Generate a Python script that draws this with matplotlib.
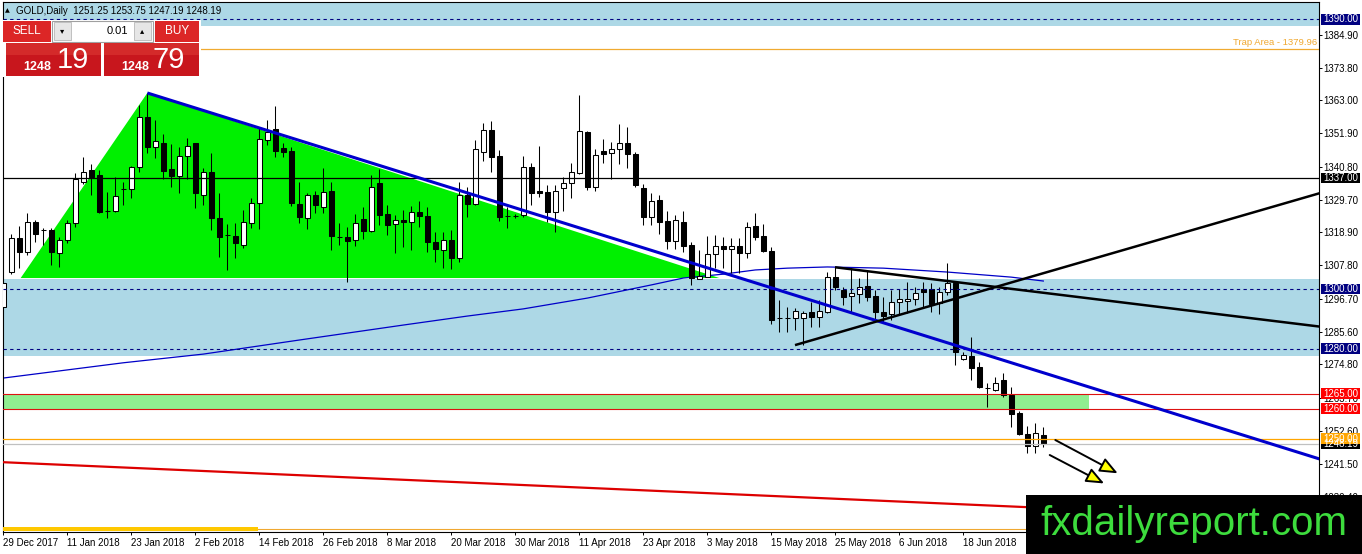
import numpy as np
import matplotlib

matplotlib.use("Agg")

import matplotlib.pyplot as plt
from matplotlib.patches import Rectangle, Polygon, FancyArrowPatch
from matplotlib.transforms import blended_transform_factory

plt.rcParams["font.family"] = ["Liberation Sans", "DejaVu Sans"]

# daily GOLD candles, 29 Dec 2017 .. 27 Jun 2018
opens = [
    1294.0, 1305.7, 1316.9, 1312.4, 1322.4, 1319.8, 1319.5, 1311.9, 1316.3, 1321.9,
    1335.6, 1339.6, 1338.0, 1326.0, 1326.0, 1333.3, 1333.2, 1340.6, 1357.5, 1347.3,
    1348.6, 1339.9, 1337.7, 1344.4, 1348.6, 1331.3, 1338.9, 1323.5, 1318.0, 1317.8,
    1314.6, 1321.9, 1328.6, 1349.7, 1353.4, 1346.9, 1346.0, 1328.3, 1323.5, 1331.3,
    1327.4, 1332.7, 1317.4, 1317.4, 1316.3, 1323.2, 1319.3, 1335.2, 1324.9, 1321.5,
    1323.1, 1322.4, 1325.6, 1324.3, 1315.7, 1313.0, 1316.3, 1310.2, 1331.3, 1328.2,
    1345.8, 1353.0, 1344.4, 1324.4, 1324.3, 1324.7, 1340.6, 1332.7, 1332.4, 1325.8,
    1333.6, 1335.5, 1338.6, 1352.5, 1334.1, 1346.0, 1345.5, 1346.6, 1348.6, 1344.9,
    1333.6, 1324.0, 1329.7, 1322.7, 1316.1, 1322.4, 1314.6, 1303.2, 1304.1, 1311.5,
    1314.3, 1313.2, 1314.3, 1311.9, 1321.0, 1317.6, 1312.6, 1290.2, 1290.1, 1290.1,
    1290.1, 1292.4, 1290.5, 1292.4, 1304.1, 1299.6, 1297.6, 1298.2, 1300.9, 1297.7,
    1292.2, 1291.5, 1295.7, 1295.8, 1296.5, 1299.8, 1299.8, 1295.2, 1299.1, 1301.8,
    1276.6, 1277.6, 1274.0, 1267.0, 1266.2, 1269.6, 1264.6, 1258.4, 1251.5, 1247.5,
    1251.25,
]
highs = [
    1303.5, 1318.2, 1320.9, 1325.3, 1323.0, 1320.2, 1320.2, 1317.4, 1323.0, 1338.6,
    1344.1, 1341.6, 1339.7, 1332.4, 1337.2, 1335.8, 1341.1, 1361.4, 1365.3, 1356.4,
    1351.6, 1348.2, 1347.5, 1350.5, 1348.6, 1340.2, 1345.2, 1331.9, 1321.6, 1321.9,
    1326.3, 1330.2, 1353.6, 1356.4, 1361.2, 1348.6, 1347.5, 1335.8, 1331.9, 1332.7,
    1340.2, 1335.8, 1321.9, 1320.8, 1324.9, 1327.3, 1338.0, 1340.0, 1328.0, 1324.7,
    1326.3, 1327.7, 1329.3, 1327.4, 1319.1, 1319.1, 1319.7, 1335.8, 1334.1, 1349.7,
    1355.3, 1356.0, 1346.4, 1327.4, 1325.0, 1344.4, 1341.9, 1347.7, 1334.7, 1334.7,
    1337.5, 1341.9, 1364.7, 1352.7, 1346.7, 1350.0, 1348.9, 1354.9, 1353.9, 1345.8,
    1334.9, 1331.9, 1331.3, 1326.0, 1324.7, 1326.0, 1315.7, 1313.0, 1317.6, 1318.0,
    1317.4, 1317.1, 1317.1, 1322.4, 1325.2, 1321.5, 1314.1, 1296.3, 1294.0, 1293.7,
    1292.6, 1295.7, 1296.3, 1305.7, 1307.2, 1300.7, 1306.8, 1303.5, 1306.3, 1299.6,
    1297.4, 1299.6, 1299.8, 1302.4, 1300.7, 1302.4, 1301.8, 1300.7, 1308.7, 1302.4,
    1279.0, 1283.8, 1275.7, 1268.5, 1270.5, 1271.8, 1267.1, 1259.3, 1254.2, 1255.1,
    1253.75,
]
lows = [
    1293.2, 1305.0, 1307.1, 1311.3, 1315.7, 1314.6, 1308.0, 1307.4, 1315.2, 1320.8,
    1335.1, 1331.3, 1325.2, 1323.5, 1325.5, 1328.0, 1330.2, 1339.1, 1345.2, 1343.8,
    1336.7, 1334.1, 1331.9, 1336.7, 1326.9, 1328.0, 1319.7, 1310.7, 1306.3, 1310.4,
    1313.5, 1320.2, 1320.0, 1348.0, 1344.1, 1344.1, 1327.8, 1321.9, 1320.0, 1325.2,
    1325.2, 1313.0, 1314.6, 1302.4, 1314.4, 1316.6, 1319.1, 1321.3, 1318.0, 1311.9,
    1314.1, 1313.0, 1320.8, 1312.4, 1308.9, 1307.1, 1306.5, 1309.1, 1324.0, 1328.0,
    1342.7, 1339.1, 1322.7, 1320.4, 1323.5, 1324.1, 1328.0, 1330.8, 1322.4, 1319.1,
    1326.0, 1330.4, 1338.2, 1333.0, 1332.7, 1341.9, 1336.7, 1341.6, 1340.2, 1334.1,
    1321.3, 1321.3, 1318.2, 1313.3, 1313.3, 1312.4, 1301.3, 1303.2, 1303.8, 1307.1,
    1306.9, 1305.2, 1305.2, 1310.2, 1316.3, 1312.4, 1288.2, 1285.7, 1285.7, 1286.2,
    1281.2, 1287.1, 1287.1, 1291.8, 1299.6, 1294.6, 1292.4, 1295.2, 1296.0, 1289.6,
    1289.0, 1289.6, 1291.3, 1291.8, 1294.6, 1293.5, 1292.4, 1291.6, 1297.9, 1274.6,
    1276.2, 1269.6, 1266.8, 1260.6, 1266.0, 1264.0, 1254.0, 1251.2, 1245.3, 1245.3,
    1247.19,
]
closes = [
    1302.0, 1316.9, 1312.4, 1322.2, 1318.4, 1319.7, 1312.2, 1316.2, 1321.9, 1336.7,
    1339.1, 1337.5, 1325.8, 1326.0, 1331.0, 1333.3, 1340.6, 1357.5, 1347.5, 1349.4,
    1339.5, 1337.8, 1344.4, 1347.8, 1331.9, 1338.9, 1323.5, 1317.4, 1318.0, 1315.2,
    1322.2, 1328.6, 1349.9, 1352.5, 1346.1, 1345.8, 1328.6, 1323.9, 1331.3, 1328.0,
    1332.4, 1317.8, 1317.4, 1316.1, 1321.9, 1319.4, 1333.9, 1324.7, 1321.3, 1323.0,
    1322.2, 1325.6, 1324.3, 1315.7, 1313.2, 1316.3, 1310.2, 1331.3, 1328.2, 1346.7,
    1353.0, 1344.1, 1324.1, 1324.4, 1324.3, 1340.6, 1331.9, 1332.1, 1325.8, 1332.7,
    1335.5, 1338.9, 1352.7, 1334.1, 1344.7, 1345.1, 1346.6, 1348.6, 1344.9, 1334.7,
    1324.1, 1329.4, 1322.4, 1316.1, 1323.0, 1314.4, 1303.5, 1304.3, 1311.5, 1314.4,
    1313.2, 1314.3, 1311.9, 1320.5, 1317.4, 1312.7, 1289.6, 1290.2, 1290.1, 1292.6,
    1291.8, 1290.7, 1292.7, 1304.1, 1300.7, 1297.4, 1298.5, 1300.7, 1297.4, 1292.4,
    1291.0, 1295.7, 1296.5, 1296.5, 1298.7, 1299.1, 1294.9, 1299.1, 1301.8, 1279.0,
    1277.9, 1273.7, 1267.3, 1267.0, 1268.7, 1264.6, 1258.2, 1251.5, 1247.5, 1252.0,
    1248.19,
]

# moving average, sampled at a few bars
ma_idx = [0, 15, 25, 37, 50, 58, 65, 73, 81, 85, 90, 94, 98, 103, 110, 118, 126, 130]
ma_val = [1270.2, 1275.3, 1278.2, 1282.9, 1287.9, 1290.9, 1293.3, 1296.9, 1301.3,
          1303.6, 1304.9, 1306.3, 1306.9, 1307.3, 1306.9, 1305.6, 1303.9, 1302.6]

date_idx = list(range(0, 121, 8))
date_labels = ["29 Dec 2017", "11 Jan 2018", "23 Jan 2018", "2 Feb 2018",
               "14 Feb 2018", "26 Feb 2018", "8 Mar 2018", "20 Mar 2018",
               "30 Mar 2018", "11 Apr 2018", "23 Apr 2018", "3 May 2018",
               "15 May 2018", "25 May 2018", "6 Jun 2018", "18 Jun 2018"]
price_ticks = [1384.90, 1373.80, 1363.00, 1351.90, 1340.80, 1329.70, 1318.90,
               1307.80, 1296.70, 1285.60, 1274.80, 1263.70, 1252.60, 1241.50, 1230.40]

# drawn objects: (bar index, price) end points
blue_trend = [(18, 1365.4), (164.5, 1243.2)]
rising_line = [(98.96, 1281.2), (164.5, 1331.9)]
falling_line = [(103.96, 1307.2), (164.5, 1287.4)]
red_trend = [(-0.04, 1242.1), (164.5, 1222.8)]
triangle = [(2.17, 1303.6), (18, 1365.4), (89.5, 1303.6)]
arrows = [[(131.5, 1249.5), (139.3, 1238.4)], [(130.8, 1244.5), (137.6, 1235.0)]]
zone_1300 = (1277.6, 1303.2)
zone_top = 1387.8
zone_green = (1260.0, 1265.0, 135.8)
trap_price = 1379.96
bid = 1248.19
tags = [(1390.00, "#000080"), (1337.00, "#000000"), (1300.00, "#000080"),
        (1280.00, "#000080"), (1265.00, "#ff0000"), (1260.00, "#ff0000"),
        (1248.19, "#000000"), (1250.00, "#ffa500")]

W, H = 1362, 554
fig = plt.figure(figsize=(W / 100, H / 100), dpi=100)
ax = fig.add_axes([3 / W, 22 / H, 1316 / W, 530 / H])
ax.set_xlim(-0.04, 164.46)
ax.set_ylim(1218.79, 1395.78)

# background zones
ax.axhspan(zone_1300[0], zone_1300[1], color="#add8e6", lw=0, zorder=0.5)
ax.axhspan(zone_top, 1400, color="#add8e6", lw=0, zorder=0.5)
ax.add_patch(Rectangle((-0.04, zone_green[0]), zone_green[2], zone_green[1] - zone_green[0],
                       color="#90ee90", lw=0, zorder=0.6))
ax.add_patch(Polygon(triangle, closed=True, color="#00f000", lw=0, zorder=0.7))
ax.plot(ma_idx, ma_val, color="#0000c8", lw=0.9, zorder=1)

# candles
o = np.array(opens)
c = np.array(closes)
x = np.arange(len(o))
up = c >= o
ax.vlines(x, lows, highs, color="black", lw=0.75, zorder=3)
ax.bar(x, np.abs(c - o), bottom=np.minimum(o, c), width=0.56,
       color=np.where(up, "white", "black"), edgecolor="black", linewidth=0.75, zorder=4)

# horizontal levels
for lvl in (1390.0, 1300.0, 1280.0):
    ax.axhline(lvl, color="#000080", lw=0.8, dashes=(3, 3), zorder=5)
ax.axhline(1337.0, color="black", lw=0.9, zorder=5)
ax.axhline(trap_price, color="#f0aa30", lw=0.9, zorder=5)
ax.axhline(1265.0, color="#dd1111", lw=0.8, zorder=5)
ax.axhline(1260.0, color="#dd1111", lw=0.8, zorder=5)
ax.axhline(bid, color="#c0c0c0", lw=0.9, zorder=5)
ax.axhline(1250.0, color="#ffa500", lw=0.9, zorder=5)
ax.text(164.2, trap_price + 0.8, "Trap Area - 1379.96", color="#f0a830",
        fontsize=6.8, ha="right", va="bottom", zorder=6)

# trend lines
for pts, col, lw in ((blue_trend, "#0000cd", 2.2), (rising_line, "black", 1.8),
                     (falling_line, "black", 1.8), (red_trend, "#dd0000", 1.6)):
    ax.plot([p[0] for p in pts], [p[1] for p in pts], color=col, lw=lw,
            solid_capstyle="butt", zorder=5)

for start, end in arrows:
    ax.add_patch(FancyArrowPatch(start, end, arrowstyle="-|>,head_length=0.6,head_width=0.25",
                                 mutation_scale=18, lw=1.4, edgecolor="black",
                                 facecolor="#ffff00", shrinkA=0, shrinkB=0, zorder=6))

# axes styling
for side in ("left", "right", "bottom", "top"):
    ax.spines[side].set_color("black")
    ax.spines[side].set_linewidth(0.8)
ax.yaxis.tick_right()
ax.set_yticks(price_ticks)
ax.set_yticklabels([f"{v:.2f}" for v in price_ticks])
ax.tick_params(axis="y", length=2.2, width=0.7, pad=1.2, labelsize=7)
ax.set_xticks(date_idx)
ax.set_xticklabels(date_labels, ha="left")
ax.tick_params(axis="x", length=2.2, width=0.7, pad=2, labelsize=7)

# bottom scroll markers
ax.axhline(1219.8, color="#f0a830", lw=0.8, zorder=5)
ax.add_patch(Rectangle((0, 0.002), 0.194, 0.008, transform=ax.transAxes,
                       color="#ffc800", lw=0, zorder=5))

# price tags on the right scale
trans = blended_transform_factory(ax.transAxes, ax.transData)
for price, face in tags:
    ax.add_patch(Rectangle((1.0018, price - 1.75), 0.0292, 3.5, transform=trans,
                           facecolor=face, edgecolor="none", clip_on=False, zorder=8))
    ax.text(1.0032, price, f"{price:.2f}", transform=trans, ha="left", va="center",
            color="white", fontsize=7, clip_on=False, zorder=9)

# overlay in pixel units: header, trade panel, watermark
ov = fig.add_axes([0, 0, 1, 1], zorder=10)
ov.set_xlim(0, W)
ov.set_ylim(H, 0)
ov.axis("off")
ov.patch.set_alpha(0)

ov.text(5, 10.5, "\u25b2", fontsize=4.5, va="center", ha="left", family="DejaVu Sans")
ov.text(16, 10.5, "GOLD,Daily  1251.25 1253.75 1247.19 1248.19", fontsize=7,
        va="center", ha="left")

ov.add_patch(Rectangle((0, 19.5), 201, 57.5, color="white", lw=0))
ov.add_patch(Rectangle((3, 20.5), 48, 21, color="#dc2626", lw=0))
ov.add_patch(Rectangle((155, 20.5), 44, 21, color="#dc2626", lw=0))
ov.text(27, 31.5, "SELL", color="white", fontsize=8.5, ha="center", va="center")
ov.text(177, 31.5, "BUY", color="white", fontsize=8.5, ha="center", va="center")
ov.add_patch(Rectangle((52, 20.5), 101, 21, facecolor="white", edgecolor="#a0a0a0", lw=0.8))
ov.add_patch(Rectangle((54, 22), 17, 18, facecolor="#e6e6e6", edgecolor="#b8b8b8", lw=0.6))
ov.add_patch(Rectangle((134, 22), 17, 18, facecolor="#e6e6e6", edgecolor="#b8b8b8", lw=0.6))
ov.text(62.5, 31, "\u25be", fontsize=6, ha="center", va="center", family="DejaVu Sans")
ov.text(142.5, 31, "\u25b4", fontsize=6, ha="center", va="center", family="DejaVu Sans")
ov.text(128, 31.5, "0.01", fontsize=8, ha="right", va="center")
for left in (6, 104):
    ov.add_patch(Rectangle((left, 42.5), 95, 33.5, color="#c8161d", lw=0))
    ov.add_patch(Rectangle((left, 42.5), 95, 12, color="#d42a2a", lw=0))
for small_x, big_x, big in ((23, 57, "19"), (121, 152, "79")):
    ov.text(small_x, 70.5, "1248", color="white", fontsize=9, fontweight="bold",
            ha="left", va="baseline")
    ov.text(big_x, 68.5, big, color="white", fontsize=21, ha="left", va="baseline")

ov.add_patch(Rectangle((1026, 495), 336, 59, color="black", lw=0))
ov.text(1040, 535, "fxdailyreport.com", color="#3ddc3d", fontsize=29,
        ha="left", va="baseline")

fig.savefig("out.png", dpi=100)
